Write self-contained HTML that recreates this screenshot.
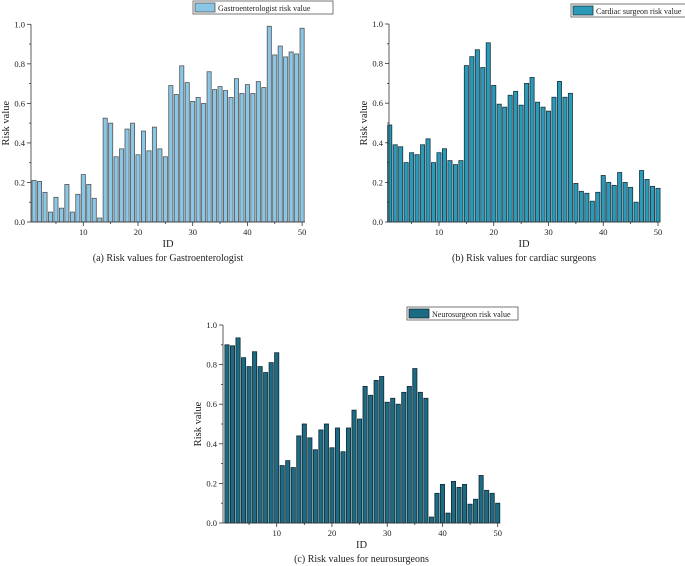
<!DOCTYPE html>
<html><head><meta charset="utf-8"><style>
body{margin:0;background:#fff;width:685px;height:566px;overflow:hidden;font-family:"Liberation Serif",serif}
svg{position:absolute;left:0;top:0}
</style></head><body>
<svg id="s" width="685" height="566"></svg>
<script>
const ids = Array.from({length:50},(_,i)=>i+1);
const gastroValues = [0.21,0.205,0.15,0.05,0.125,0.07,0.19,0.05,0.14,0.24,0.19,0.12,0.02,0.525,0.50,0.33,0.37,0.47,0.50,0.34,0.46,0.36,0.48,0.37,0.33,0.69,0.645,0.79,0.705,0.61,0.63,0.60,0.76,0.67,0.685,0.665,0.63,0.725,0.65,0.695,0.65,0.71,0.68,0.99,0.845,0.89,0.835,0.86,0.85,0.98];
const cardiacValues = [0.49,0.39,0.38,0.30,0.35,0.34,0.39,0.42,0.30,0.35,0.37,0.31,0.29,0.31,0.79,0.835,0.87,0.78,0.905,0.69,0.595,0.58,0.64,0.66,0.59,0.70,0.73,0.605,0.58,0.56,0.63,0.71,0.63,0.65,0.195,0.155,0.145,0.105,0.15,0.235,0.20,0.185,0.25,0.20,0.175,0.10,0.26,0.215,0.18,0.17];
const neuroValues = [0.90,0.895,0.935,0.835,0.79,0.865,0.79,0.76,0.81,0.86,0.29,0.315,0.28,0.44,0.50,0.43,0.37,0.47,0.50,0.38,0.48,0.36,0.48,0.57,0.525,0.69,0.645,0.72,0.74,0.61,0.63,0.60,0.66,0.69,0.78,0.66,0.63,0.03,0.15,0.195,0.05,0.21,0.18,0.195,0.095,0.12,0.24,0.165,0.15,0.10];
const yTicks = [0,0.2,0.4,0.6,0.8,1.0];
const xTicks = [10,20,30,40,50];

const NS='http://www.w3.org/2000/svg';
const svg=document.getElementById('s');
function mk(tag,attrs,parent,text){const e=document.createElementNS(NS,tag);for(const k in attrs)e.setAttribute(k,attrs[k]);if(text!==undefined)e.textContent=text;(parent||svg).appendChild(e);return e;}

function drawChart(c,values){
  const g=mk('g',{});
  
  
  const x=v=>c.x10+(v-10)*c.step;
  const y=v=>c.y0-(c.y0-c.y1)*v;
  const bw=c.step*0.76;
  values.forEach((v,i)=>{
    const r=mk('rect',{x:x(ids[i])-bw/2,y:y(v),width:bw,height:y(0)-y(v),fill:c.fill,stroke:c.stroke,'stroke-width':0.8},g);
    
    
  });
  const ax=mk('g',{stroke:'#333','stroke-width':0.8},g);
  
  
  mk('line',{x1:c.left,y1:y(0),x2:c.right,y2:y(0)},ax);
  mk('line',{x1:c.left,y1:y(0),x2:c.left,y2:y(1.0)},ax);
  for(let t=0;t<=1.0001;t+=0.1){const maj=Math.abs(t*5-Math.round(t*5))<1e-6;mk('line',{x1:c.left,y1:y(t),x2:c.left-(maj?4:2),y2:y(t)},ax);}
  for(let t=5;t<=50;t+=5){const maj=t%10===0;mk('line',{x1:x(t),y1:y(0),x2:x(t),y2:y(0)+(maj?4:2)},ax);}
  yTicks.forEach(t=>{const e=mk('text',{x:c.left-6,y:y(t)+3,'font-size':8.5,'text-anchor':'end',fill:'#222'},g,t.toFixed(1));});
  xTicks.forEach(t=>{const e=mk('text',{x:x(t),y:y(0)+13,'font-size':8.5,'text-anchor':'middle',fill:'#222'},g,t);});
  const yl=mk('text',{x:0,y:0,'font-size':10.5,'text-anchor':'middle',fill:'#222',transform:`translate(${c.left-22},${(y(0)+y(1))/2}) rotate(-90)`},g,'Risk value');
  
  const xl=mk('text',{x:(c.left+c.right)/2,y:y(0)+25,'font-size':10.5,'text-anchor':'middle',fill:'#222'},g,'ID');
  
  const cap=mk('text',{x:(c.left+c.right)/2,y:y(0)+39,'font-size':10,'text-anchor':'middle',fill:'#222'},g,c.caption);
  
  const lg=mk('g',{},g);
  
  mk('rect',{x:c.lx,y:c.ly,width:c.lw,height:13,fill:'#fff',stroke:'#555','stroke-width':0.8},lg);
  mk('rect',{x:c.lx+2,y:c.ly+2,width:20,height:9,fill:c.fill,stroke:c.stroke,'stroke-width':0.8},lg);
  mk('text',{x:c.lx+25,y:c.ly+10,'font-size':8,fill:'#222'},lg,c.legend);
}
drawChart({name:'gastroenterologist-chart',x10:83.3,step:5.47,y0:222,y1:24.3,left:31,right:305,fill:'#8ac6e6',stroke:'#555',lx:193,ly:1,lw:140,legend:'Gastroenterologist risk value',caption:'(a) Risk values for Gastroenterologist'},gastroValues);
drawChart({name:'cardiac-chart',x10:439,step:5.475,y0:222,y1:24,left:389,right:659,fill:'#2a9ab8',stroke:'#1b3440',lx:571,ly:4,lw:120,legend:'Cardiac surgeon risk value',caption:'(b) Risk values for cardiac surgeons'},cardiacValues);
drawChart({name:'neurosurgeon-chart',x10:276.7,step:5.525,y0:523,y1:325,left:223,right:500,fill:'#1d6a83',stroke:'#0f2a35',lx:407,ly:307,lw:111,legend:'Neurosurgeon risk value',caption:'(c) Risk values for neurosurgeons'},neuroValues);
</script>
</body></html>
